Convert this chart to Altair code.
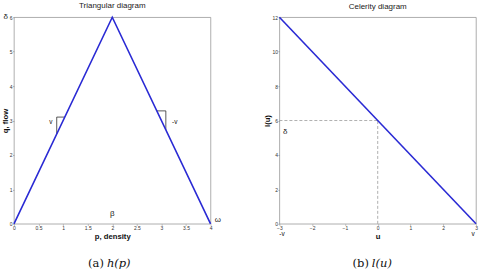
import altair as alt
import pandas as pd

# ---------------- panel (a): triangular diagram ----------------
density = [0, 2, 4]
flow = [0, 6, 0]
density_ticks = [0, 0.5, 1, 1.5, 2, 2.5, 3, 3.5, 4]
flow_ticks = [0, 1, 2, 3, 4, 5, 6]

# slope markers drawn against the two branches (data units)
slope_x1 = [0.87, 0.87, 2.907, 3.09]
slope_y1 = [3.1, 3.1, 3.28, 3.28]
slope_x2 = [1.033, 0.87, 3.09, 3.09]
slope_y2 = [3.1, 2.61, 3.28, 2.73]

a_speed_text = ["v", "-v"]
a_speed_x = [0.75, 3.27]
a_speed_y = [2.96, 2.96]

a_sym_text = ["δ", "β", "ω"]
a_sym_x = [-0.17, 2.0, 4.15]
a_sym_y = [6.0, 0.29, 0.1]

a_cap_tag = ["(a)"]
a_cap_fun = ["h(p)"]
a_cap_x = [1.83]
a_cap_y = [-1.16]

# ---------------- panel (b): celerity diagram ----------------
celerity_u = [-3, 3]
celerity_l = [12, 0]
u_ticks = [-3, -2, -1, 0, 1, 2, 3]
l_ticks = [0, 2, 4, 6, 8, 10, 12]

dash_x1 = [-3, 0]
dash_y1 = [6, 0]
dash_x2 = [0, 0]
dash_y2 = [6, 6]

b_speed_text = ["-v", "v"]
b_speed_x = [-2.92, 2.91]
b_speed_y = [-0.58, -0.58]

b_sym_text = ["δ"]
b_sym_x = [-2.82]
b_sym_y = [5.33]

b_cap_tag = ["(b)"]
b_cap_fun = ["l(u)"]
b_cap_x = [-0.27]
b_cap_y = [-2.32]

BLUE = "#2a2ad4"
GREY = "#8a8a8a"
SANS = "Liberation Sans"
W, H = 197, 207


def axis(title, values, title_pad=0):
    return alt.Axis(
        title=title,
        values=values,
        tickCount=len(values),
        format="~g",
        grid=False,
        domain=False,
        ticks=True,
        tickSize=1.5,
        tickColor=GREY,
        tickWidth=0.6,
        labelFontSize=5,
        labelColor="#333333",
        labelFont=SANS,
        labelPadding=0.5,
        labelOverlap=False,
        labelSeparation=0,
        labelFlush=False,
        labelBound=False,
        titleFont=SANS,
        titleFontSize=7.7,
        titleFontWeight="bold",
        titleColor="#111111",
        titlePadding=title_pad,
    )


def panel(line_df, xdom, ydom, xaxis, yaxis, seg_df, seg_style,
          speed_df, sym_df, cap_df, title):
    xs = alt.Scale(domain=xdom, nice=False, zero=False)
    ys = alt.Scale(domain=ydom, nice=False, zero=False)
    line = alt.Chart(line_df).mark_line(color=BLUE, strokeWidth=1.6).encode(
        x=alt.X("x:Q", scale=xs, axis=xaxis),
        y=alt.Y("y:Q", scale=ys, axis=yaxis),
    )
    segs = alt.Chart(seg_df).mark_rule(**seg_style).encode(
        x="x1:Q", y="y1:Q", x2="x2:Q", y2="y2:Q"
    )
    speeds = alt.Chart(speed_df).mark_text(
        font=SANS, fontSize=6.5, color="#111111"
    ).encode(x="x:Q", y="y:Q", text="t:N")
    syms = alt.Chart(sym_df).mark_text(
        font=SANS, fontSize=8, color="#222222"
    ).encode(x="x:Q", y="y:Q", text="t:N")
    cap_tag = alt.Chart(cap_df).mark_text(
        font="DejaVu Serif", fontSize=11.5, color="#111111", align="right"
    ).encode(x="x:Q", y="y:Q", text="tag:N")
    cap_fun = alt.Chart(cap_df).mark_text(
        font="DejaVu Serif", fontSize=11.5, fontStyle="italic",
        color="#111111", align="left", dx=3
    ).encode(x="x:Q", y="y:Q", text="fun:N")
    return alt.layer(segs, line, speeds, syms, cap_tag, cap_fun).properties(
        width=W,
        height=H,
        title=alt.TitleParams(
            title, font=SANS, fontSize=8, fontWeight="normal",
            color="#222222", offset=3
        ),
    )


left = panel(
    pd.DataFrame({"x": density, "y": flow}),
    [0, 4], [0, 6],
    axis("p, density", density_ticks, title_pad=2),
    axis("q, flow", flow_ticks, title_pad=0),
    pd.DataFrame({"x1": slope_x1, "y1": slope_y1, "x2": slope_x2, "y2": slope_y2}),
    dict(color="#111111", strokeWidth=0.7),
    pd.DataFrame({"t": a_speed_text, "x": a_speed_x, "y": a_speed_y}),
    pd.DataFrame({"t": a_sym_text, "x": a_sym_x, "y": a_sym_y}),
    pd.DataFrame({"tag": a_cap_tag, "fun": a_cap_fun, "x": a_cap_x, "y": a_cap_y}),
    "Triangular diagram",
)

right = panel(
    pd.DataFrame({"x": celerity_u, "y": celerity_l}),
    [-3, 3], [0, 12],
    axis("u", u_ticks, title_pad=2),
    axis("l(u)", l_ticks, title_pad=0),
    pd.DataFrame({"x1": dash_x1, "y1": dash_y1, "x2": dash_x2, "y2": dash_y2}),
    dict(color="#9a9a9a", strokeWidth=0.8, strokeDash=[3, 2]),
    pd.DataFrame({"t": b_speed_text, "x": b_speed_x, "y": b_speed_y}),
    pd.DataFrame({"t": b_sym_text, "x": b_sym_x, "y": b_sym_y}),
    pd.DataFrame({"tag": b_cap_tag, "fun": b_cap_fun, "x": b_cap_x, "y": b_cap_y}),
    "Celerity diagram",
)

chart = alt.hconcat(left, right, spacing=69, bounds="flush").properties(
    padding={"left": 0, "top": 1, "right": 0, "bottom": 0},
    background="white",
).configure_view(stroke=GREY, strokeWidth=0.7)

chart.save("out.html", embed_options={"renderer": "svg", "actions": False})
